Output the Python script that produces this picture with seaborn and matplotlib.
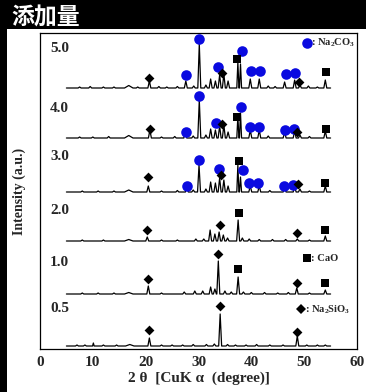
import numpy as np
import pandas as pd
import matplotlib
matplotlib.use("Agg")
import matplotlib.pyplot as plt
import seaborn as sns
from matplotlib.patches import Rectangle

# ---------------- data ----------------
samples = ["5.0", "4.0", "3.0", "2.0", "1.0", "0.5"]
x_ticks = [0, 10, 20, 30, 40, 50, 60]

# peaks: (2theta, relative intensity[, half width])
peaks_50 = [(7.5, 1), (9.5, 1.5), (12, 1), (14, 1), (16.8, 2.5, 0.8), (18.5, 1), (20.7, 7),
            (22.5, 1.5), (24, 1), (26, 1.5), (27.6, 7), (29.1, 2), (30.15, 44), (31.4, 3),
            (32.3, 9), (33.2, 7), (34.0, 13), (34.8, 14), (35.6, 7), (37.45, 26, 0.2),
            (37.95, 24, 0.2), (39.8, 9), (41.5, 9), (43.2, 2), (44.5, 1.5), (46.3, 6),
            (48.2, 8), (49.2, 3), (50.8, 2), (52.5, 1), (54.0, 8)]
peaks_40 = [(7.5, 1), (10, 1), (13, 1.5), (16.8, 2.5, 0.8), (20.8, 8), (23, 1), (25.5, 1.5),
            (27.5, 7), (29, 2), (30.15, 38), (31.4, 3), (32.3, 9), (33.2, 8), (34.0, 12),
            (34.8, 13), (35.6, 6), (37.45, 22, 0.2), (37.95, 25, 0.2), (39.8, 8), (41.5, 8),
            (43.2, 2), (46.3, 6), (48.2, 7), (49.2, 3), (51, 1.5), (54.0, 7)]
peaks_30 = [(8, 1), (11, 1), (14, 1), (16.8, 2, 0.8), (20.5, 6), (23, 1), (26, 1.5), (27.8, 5),
            (29, 2), (30.1, 27), (31.4, 3), (32.3, 10), (33.2, 9), (34.0, 14), (34.8, 12),
            (35.6, 6), (37.45, 27, 0.2), (37.95, 15, 0.2), (39.8, 6), (41.5, 6), (43.5, 1.5),
            (46.3, 4), (48.2, 5), (49.2, 3), (51, 1), (54.0, 6)]
peaks_20 = [(8, 1), (12, 1), (16.8, 1.5, 0.8), (20.3, 4), (23, 1), (26, 1), (29.5, 2), (31, 2),
            (32.2, 11), (33.1, 7), (33.9, 9), (34.7, 6), (35.5, 3), (37.5, 21), (38.3, 3),
            (39.6, 2), (41.5, 1.5), (44, 1.5), (46.5, 1.5), (48.7, 2), (51, 1), (54.0, 5)]
peaks_10 = [(8, 1), (11, 1), (14, 1), (16.8, 1.5, 0.8), (20.5, 8), (23, 1), (27.3, 2), (29.3, 3),
            (30.8, 3), (32.3, 7), (33.1, 5), (33.75, 33), (35, 3), (36.2, 2), (37.5, 17),
            (38.5, 2), (40, 1.5), (42.5, 1.5), (45, 1), (47, 1.5), (48.6, 6), (51, 1), (54.0, 4)]
peaks_05 = [(7, 1), (8.5, 1), (10.1, 3, 0.15), (12, 1), (14.5, 1), (17, 1.5, 0.8), (20.7, 8),
            (23, 1), (25, 1), (27, 1), (29, 1.5), (31.5, 1.5), (33.0, 2), (34.1, 32),
            (35.5, 1.5), (37, 1), (39, 1), (41, 1.5), (43.5, 1), (46, 1), (48.7, 10),
            (50.5, 1), (52.5, 1), (54, 1)]
trace_peaks = [peaks_50, peaks_40, peaks_30, peaks_20, peaks_10, peaks_05]

# phase markers: (2theta, height above the trace baseline)
na2co3 = {"5.0": [(27.6, 13), (30.15, 49), (33.7, 21), (38.2, 37), (39.9, 17), (41.6, 17), (46.5, 14), (48.3, 15)],
          "4.0": [(27.6, 6.3), (30.1, 42.3), (33.4, 14.7), (38.0, 30.7), (39.75, 10.7), (41.5, 10.7), (46.4, 8), (48.1, 9.3)],
          "3.0": [(27.8, 6.3), (30.0, 32), (33.9, 22.7), (38.4, 22), (39.6, 8.7), (41.3, 8.7), (46.2, 6.3), (47.8, 7)]}
na2sio3 = {"5.0": [(20.7, 9.7), (34.4, 15.3), (49.0, 6)],
           "4.0": [(20.8, 9), (34.4, 13.7), (48.7, 6.3)],
           "3.0": [(20.5, 14.7), (34.2, 17), (48.9, 8)],
           "2.0": [(20.3, 11), (34.1, 16), (48.7, 7.7)],
           "1.0": [(20.5, 14.7), (33.6, 40), (48.6, 10.7)],
           "0.5": [(20.7, 16), (34.1, 40), (48.7, 14.3)]}
cao = {"5.0": [(37.2, 28.7), (54.1, 16.3)],
       "4.0": [(37.3, 20.7), (54.1, 9)],
       "3.0": [(37.7, 31), (53.9, 9.3)],
       "2.0": [(37.7, 27.7), (53.9, 11)],
       "1.0": [(37.5, 24.7), (54.0, 10.7)]}

# ---------------- layout ----------------
offsets = {"5.0": 261, "4.0": 211, "3.0": 157, "2.0": 108, "1.0": 55, "0.5": 3}
label_y = {"5.0": 300, "4.0": 240.5, "3.0": 192, "2.0": 138.5, "1.0": 87, "0.5": 41}

sns.set_style("white")
plt.rcParams["font.family"] = ["Liberation Serif", "DejaVu Serif"]
plt.rcParams["font.weight"] = "bold"
plt.rcParams["mathtext.fontset"] = "custom"
plt.rcParams["mathtext.rm"] = "Liberation Serif:bold"
plt.rcParams["mathtext.bf"] = "Liberation Serif:bold"
plt.rcParams["mathtext.it"] = "Liberation Serif:bold:italic"

W, H = 366, 392
fig = plt.figure(figsize=(W / 100, H / 100), dpi=100)
fig.patch.set_facecolor("white")
# black frame bands (top and left) of the original slide
fig.patches.append(Rectangle((0, (H - 29) / H), 1, 29 / H, transform=fig.transFigure,
                             facecolor="black", edgecolor="none", zorder=-5))
fig.patches.append(Rectangle((0, 0), 7 / W, 1, transform=fig.transFigure,
                             facecolor="black", edgecolor="none", zorder=-5))
ax = fig.add_axes([40 / W, 1 - 349 / H, (357 - 40) / W, (349 - 33) / H])
ax.set_facecolor("white")

rows = []
for s, pk in zip(samples, trace_peaks):
    off = offsets[s]
    verts = [(5.0, 0.0)]
    for p in sorted(pk):
        w = p[2] if len(p) > 2 else 0.28
        verts += [(p[0] - w, 0.0), (p[0], p[1]), (p[0] + w, 0.0)]
    verts.append((55.0, 0.0))
    for i, (x, y) in enumerate(verts):
        rows.append({"sample": s, "order": i, "two_theta": x, "intensity": y + off})
lines = pd.DataFrame(rows)

sns.lineplot(data=lines, x="two_theta", y="intensity", hue="sample",
             palette={s: "black" for s in samples}, estimator=None, sort=False,
             linewidth=0.9, legend=False, ax=ax)

def mk_df(d):
    r = []
    for s, pts in d.items():
        for x, y in pts:
            r.append({"two_theta": x, "intensity": y + offsets[s]})
    return pd.DataFrame(r)

blue = "#0a0ae0"
sns.scatterplot(data=mk_df(na2co3), x="two_theta", y="intensity", marker="o", s=58,
                color=blue, edgecolor=blue, linewidth=0, ax=ax, zorder=5)
sns.scatterplot(data=mk_df(na2sio3), x="two_theta", y="intensity", marker="D", s=25,
                color="black", linewidth=0, ax=ax, zorder=5)
sns.scatterplot(data=mk_df(cao), x="two_theta", y="intensity", marker="s", s=29,
                color="black", linewidth=0, ax=ax, zorder=5)

# sample labels
for s in samples:
    ax.text(1.9, label_y[s], s, fontsize=11, fontweight="bold", ha="left", va="center")

# phase keys
ax.plot([50.6], [306], marker="o", ms=7.6, color=blue, mec=blue, mew=0, ls="none", zorder=6)
ax.text(51.3, 306, r": Na$_2$CO$_3$", fontsize=7.6, fontweight="bold", ha="left", va="center")
ax.plot([50.6], [90.7], marker="s", ms=5.4, color="black", mew=0, ls="none", zorder=6)
ax.text(51.3, 90.7, ": CaO", fontsize=7.6, fontweight="bold", ha="left", va="center")
ax.plot([49.4], [39.7], marker="D", ms=5.0, color="black", mew=0, ls="none", zorder=6)
ax.text(50.1, 39.7, r": Na$_2$SiO$_3$", fontsize=7.6, fontweight="bold", ha="left", va="center")

ax.set_xlim(0, 60)
ax.set_ylim(0, 316)
ax.set_xticks(x_ticks)
ax.set_xticklabels([str(t) for t in x_ticks], fontsize=11, fontweight="bold")
ax.set_yticks([])
ax.tick_params(axis="x", length=0, pad=5)
ax.set_xlabel("2 θ  [CuK α  (degree)]", fontsize=11, fontweight="bold", labelpad=2)
ax.set_ylabel("Intensity (a.u.)", fontsize=10, fontweight="bold", labelpad=10)
for sp in ax.spines.values():
    sp.set_visible(True)
    sp.set_color("black")
    sp.set_linewidth(0.9)

fig.text(11 / W, 1 - 18 / H, "添加量", color="white", fontsize=16.5, fontweight="bold",
         family=["Noto Sans CJK JP", "DejaVu Sans"], ha="left", va="center")

fig.savefig("out.png", dpi=100, facecolor=fig.get_facecolor())
